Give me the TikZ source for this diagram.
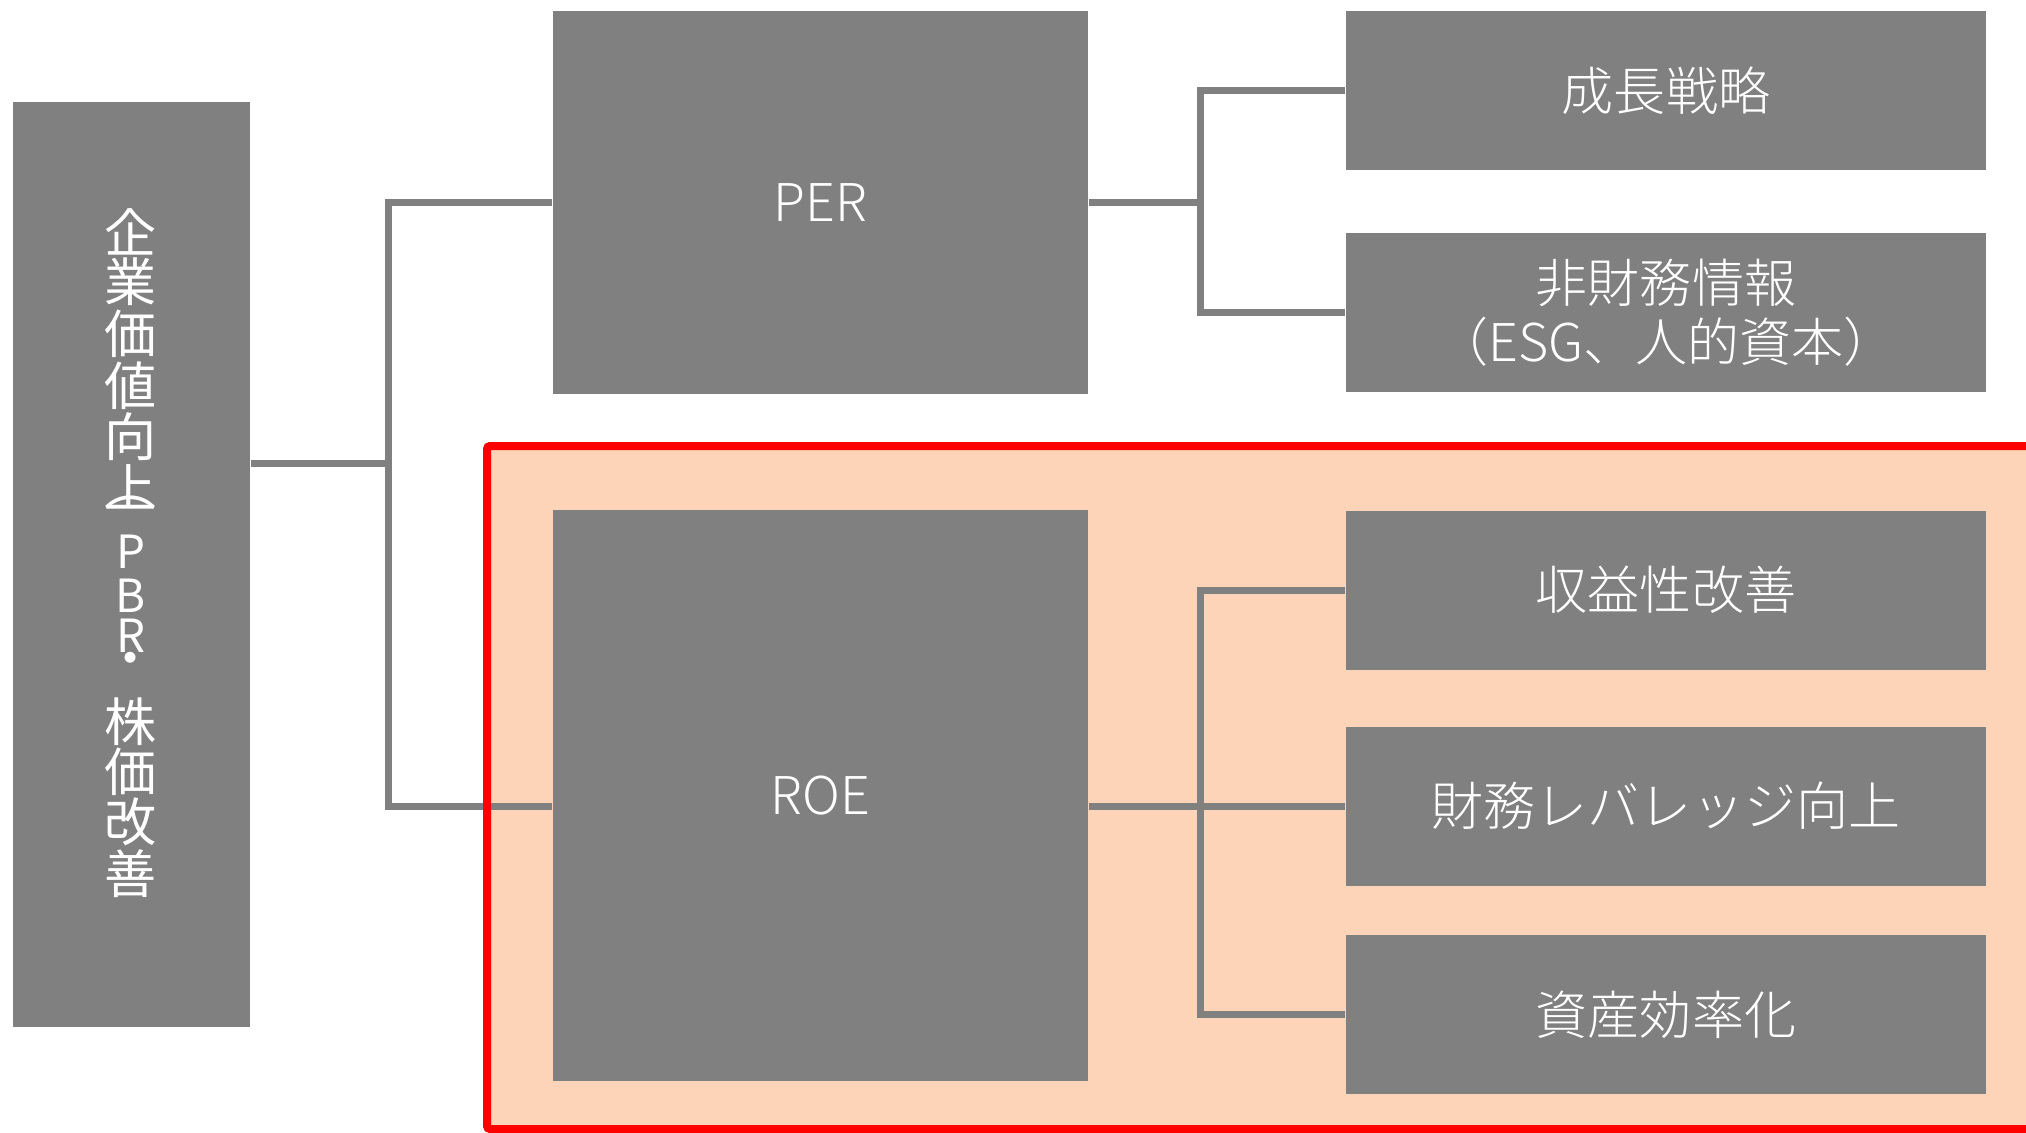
\documentclass[tikz,border=0pt]{standalone}
\usepackage{fontspec}
\setmainfont{Noto Sans CJK JP}
\newfontfamily\thinfont{Noto Sans CJK JP Light}
\usetikzlibrary{positioning}
\definecolor{Box}{HTML}{808080}
\definecolor{Peach}{HTML}{FDD4B8}
\definecolor{Frame}{HTML}{FF0000}
\newdimen\px \px=0.01cm

\begin{document}
\begin{tikzpicture}[x=\px,y=-\px,
    box/.style={fill=Box,text=white,inner sep=0pt,align=center,font=\thinfont\fontsize{14.8pt}{16.8pt}\selectfont},
    rbox/.style={box,minimum width=640\px,minimum height=159\px},
    vch/.style={text=white,inner sep=0pt,font=\fontsize{14.8pt}{16.8pt}\selectfont},
    vlat/.style={vch,font=\fontsize{13pt}{15pt}\selectfont},
    conn/.style={draw=Box,line width=7\px}]
  \clip (0,0) rectangle (2026,1133);
  \fill[Peach,rounded corners=3\px] (487,446) rectangle (2070,1129);
  % left column
  \node[box,minimum width=237\px,minimum height=925\px] (main) at (131.5,564.5) {};
  \foreach \ch/\yy [count=\i] in {企/232,業/282,価/334,値/386,向/437,上/487,︵/503,・/665,株/722,価/772,改/822,善/874}
    \node[vch] (v\i) at (131,\yy) {\ch};
  \foreach \ch/\yy in {P/552,B/596,R/636}
    \node[vlat] (v\ch) at (131,\yy) {\ch};
  % middle column
  \node[box,minimum width=535\px,minimum height=383\px] (per) at (820.5,202.5) {PER};
  \node[box,minimum width=535\px,minimum height=571\px] (roe) at (820.5,795.5) {ROE};
  % right column
  \foreach \nm/\yy/\txt in {growth/90.5/成長戦略,nonfin/312.5/{非財務情報\\（ESG、人的資本）},
      profit/590/収益性改善,lever/806/財務レバレッジ向上,asset/1014.5/資産効率化}
    \node[rbox] (\nm) at (1666,\yy) {\txt};
  % connectors
  \coordinate (j1) at (388,463);
  \coordinate (j2) at (1200,202.5);
  \coordinate (j3) at (1200,806);
  \draw[conn] (main.east |- j1) -- (j1);
  \draw[conn] (per.west) -| (j1) |- (roe.west |- lever.west);
  \draw[conn] (per.east) -- (j2);
  \draw[conn] (growth.west) -| (j2) |- (nonfin.west);
  \draw[conn] (roe.east |- lever.west) -- (lever.west);
  \draw[conn] (profit.west) -| (j3) |- (asset.west);
  \draw[Frame,line width=8\px,rounded corners=3\px] (487,446) rectangle (2070,1129);
\end{tikzpicture}
\end{document}
